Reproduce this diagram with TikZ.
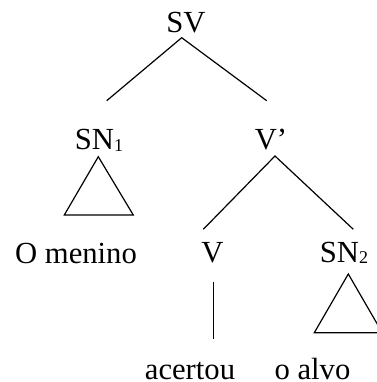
\documentclass[tikz,border=0pt]{standalone}
\usepackage{fontspec}
\setmainfont{Liberation Serif}
\begin{document}
\begin{tikzpicture}[x=0.75pt,y=-0.75pt,
  lbl/.style={anchor=base,inner sep=0pt,font=\fontsize{23}{27}\selectfont},
  edge/.style={draw=black,line width=0.9pt,line join=miter}]
\useasboundingbox (0,0) rectangle (376,382);
\newcommand{\subn}[1]{\raisebox{-1.2pt}{\fontsize{13.5}{14}\selectfont #1}}
% labels
\node[lbl] (sv) at (186,32) {SV};
\node[lbl] (sn1) at (99,149.5) {SN\subn{1}};
\node[lbl] (vbar) at (271,149) {V’};
\node[lbl] (omen) at (76,263.3) {O menino};
\node[lbl] (v) at (212.5,262) {V};
\node[lbl] (sn2) at (344,262) {SN\subn{2}};
\node[lbl] (acert) at (190,379) {acertou};
\node[lbl] (alvo) at (312.5,379) {o alvo};
% connector points
\coordinate (svtop) at (181.7,37.7);
\coordinate (svl) at (106.7,100.7);
\coordinate (svr) at (266.7,100.7);
\coordinate (t1a) at (98.3,156.7);
\coordinate (t1l) at (64.3,215);
\coordinate (t1r) at (133.3,215);
\coordinate (vbtop) at (275,156);
\coordinate (vbl) at (203.3,229.3);
\coordinate (vbr) at (353.3,229.3);
\coordinate (vtop) at (213.3,281.7);
\coordinate (vbot) at (213.3,339.3);
\coordinate (t2a) at (348.3,274);
\coordinate (t2l) at (314.3,332.7);
\coordinate (t2r) at (382.3,332.7);
% connectors
\draw[edge] (svl) -- (svtop) -- (svr);
\draw[edge] (t1a) -- (t1l) -- (t1r) -- cycle;
\draw[edge] (vbl) -- (vbtop) -- (vbr);
\draw[edge] (vtop) -- (vbot);
\draw[edge] (t2a) -- (t2l) -- (t2r) -- cycle;
\end{tikzpicture}
\end{document}
